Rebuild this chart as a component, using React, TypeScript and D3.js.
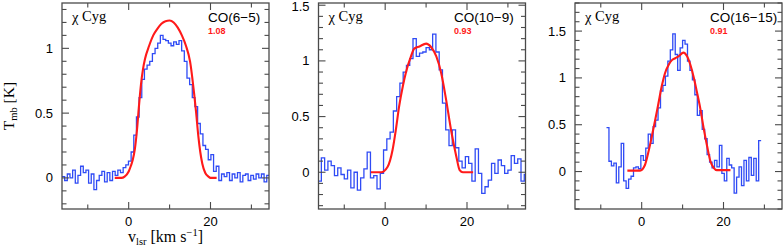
import React, { useEffect, useRef } from 'react';
import * as d3 from 'd3';

// velocity axis shared by all three panels [km/s]
const xDomain: [number, number] = [-16.3, 34.3];
const xMajorTicks = [0, 20];
const xMinorTicks = [-10, 10, 30];

// CO(6-5): channel grid and observed Tmb
const co65Start = -16.3;
const co65Width = 0.65;
const co65Values = [
  0.01, -0.02, 0.03, 0.0, 0.06, -0.04, 0.02, 0.09, 0.04, 0.06,
  -0.04, 0.03, -0.09, -0.02, 0.02, 0.05, -0.03, 0.04, -0.02, 0.05,
  0.02, 0.06, 0.04, 0.08, 0.1, 0.13, 0.2, 0.33, 0.47, 0.62,
  0.76, 0.84, 0.87, 0.9, 0.96, 1.0, 1.04, 1.1, 1.07, 1.06,
  1.04, 1.02, 1.05, 1.03, 1.06, 0.98, 0.9, 0.77, 0.72, 0.62,
  0.55, 0.42, 0.34, 0.25, 0.22, 0.14, 0.18, 0.05, 0.09, -0.02,
  0.03, 0.01, 0.04, -0.02, 0.03, 0.0, 0.04, -0.03, 0.02, 0.03,
  -0.02, 0.02, -0.01, 0.03, 0.0, 0.03, -0.03, 0.02,
];
const co65ModelV = [-3.4, -1.8, -1, 0, 0.5, 1, 1.5, 2, 2.5, 3, 3.5, 4, 5, 6, 7, 8, 9, 10, 11, 12, 13, 14, 15, 16, 16.5, 17, 17.5, 18, 18.7, 19.5, 20, 21.5];
const co65ModelT = [0, 0, 0.01, 0.05, 0.09, 0.14, 0.22, 0.36, 0.55, 0.72, 0.84, 0.92, 1.02, 1.1, 1.15, 1.19, 1.21, 1.215, 1.2, 1.16, 1.1, 1.02, 0.9, 0.65, 0.5, 0.33, 0.2, 0.11, 0.04, 0.01, 0, 0];

// CO(10-9)
const co109Start = -16.4;
const co109Width = 0.8;
const co109Values = [
  -0.08, 0.13, 0.02, 0.1, 0.06, -0.03, 0.04, -0.02, -0.06, 0.02,
  -0.14, 0.0, -0.16, -0.05, 0.03, 0.18, -0.05, -0.03, -0.15, -0.01,
  0.2, 0.3, 0.36, 0.55, 0.68, 0.8, 0.9, 0.96, 1.02, 1.2,
  1.04, 1.07, 1.08, 1.12, 1.1, 1.24, 1.08, 0.92, 0.62, 0.38,
  0.24, 0.38, 0.22, 0.1, 0.04, 0.14, 0.08, -0.08, 0.21, -0.01,
  -0.19, -0.13, -0.07, 0.08, -0.01, 0.11, 0.06, -0.01, 0.02, 0.15,
  0.08, 0.12, -0.08, -0.02,
];
const co109ModelV = [-3.5, -1, 0.6, 1.8, 2.6, 3.4, 4.3, 5.1, 6.3, 7.1, 8.4, 10, 11.2, 12.5, 13.7, 14.9, 16.1, 17.4, 18.2, 19, 21.5];
const co109ModelT = [0, 0, 0.05, 0.2, 0.38, 0.59, 0.77, 0.9, 1.04, 1.11, 1.13, 1.155, 1.125, 1.04, 0.89, 0.65, 0.38, 0.14, 0.02, 0, 0];

// CO(16-15)
const co1615Start = -8.6;
const co1615Width = 0.6;
const co1615Values = [
  0.47, 0.11, 0.06, 0.09, -0.12, 0.05, 0.3, -0.1, -0.18, -0.08,
  -0.05, 0.04, 0.05, 0.03, 0.17, 0.12, 0.25, 0.4, 0.3, 0.48,
  0.55, 0.68, 0.86, 0.92, 1.02, 1.18, 1.3, 1.47, 1.25, 1.08,
  1.32, 1.4, 1.36, 1.18, 1.08, 0.98, 0.82, 0.6, 0.65, 0.45,
  0.35, 0.18, 0.1, 0.04, 0.12, 0.05, 0.28, -0.02, -0.1, 0.14,
  0.07, 0.04, -0.23, -0.06, 0.05, -0.15, 0.12, -0.1, 0.15, -0.04,
  0.14, -0.1, 0.33,
];
const co1615ModelV = [-3.5, -0.4, 0.8, 1.6, 2.5, 3.3, 4.1, 4.9, 5.7, 6.6, 7.4, 8.2, 9, 10.2, 11.1, 11.9, 12.7, 13.5, 14.3, 15.2, 16, 16.8, 17.6, 18.4, 21.7];
const co1615ModelT = [0.01, 0.01, 0.07, 0.2, 0.38, 0.55, 0.73, 0.91, 1.05, 1.14, 1.19, 1.21, 1.23, 1.27, 1.23, 1.14, 1.01, 0.85, 0.68, 0.45, 0.27, 0.11, 0.04, 0.015, 0.015];

const lineNames = ['CO(6\u22125)', 'CO(10\u22129)', 'CO(16\u221215)'];
const ratios = ['1.08', '0.93', '0.91'];
const yDomains: [number, number][] = [[-0.24, 1.35], [-0.33, 1.52], [-0.4, 1.8]];
const yMajorTicks = [[0, 0.5, 1], [0, 0.5, 1, 1.5], [0, 0.5, 1, 1.5]];

const W = 783;
const H = 248;
const frameLefts = [62, 318.5, 575];
const frameW = 207;
const top = 3;
const bottom = 209;
const nameX = [208, 454, 710];

interface Panel {
  start: number;
  width: number;
  values: number[];
  modelV: number[];
  modelT: number[];
}

const panels: Panel[] = [
  { start: co65Start, width: co65Width, values: co65Values, modelV: co65ModelV, modelT: co65ModelT },
  { start: co109Start, width: co109Width, values: co109Values, modelV: co109ModelV, modelT: co109ModelT },
  { start: co1615Start, width: co1615Width, values: co1615Values, modelV: co1615ModelV, modelT: co1615ModelT },
];

export default function App() {
  const svgRef = useRef<SVGSVGElement>(null);

  useEffect(() => {
    if (!svgRef.current) return;
    const svg = d3.select(svgRef.current);
    svg.selectAll('*').remove();

    const frameColor = '#4a4a4a';
    const sans = "'Liberation Sans', Arial, sans-serif";
    const serif = "'Liberation Serif', 'Times New Roman', serif";

    panels.forEach((p, k) => {
      const left = frameLefts[k];
      const x = d3.scaleLinear().domain(xDomain).range([left, left + frameW]);
      const y = d3.scaleLinear().domain(yDomains[k]).range([bottom, top]);
      const g = svg.append('g');

      const clipId = `clip${k}`;
      svg.append('clipPath').attr('id', clipId)
        .append('rect')
        .attr('x', left).attr('y', top)
        .attr('width', frameW).attr('height', bottom - top);

      // observed spectrum as histogram
      const pts: [number, number][] = p.values.map((v, i) => [p.start + i * p.width, v]);
      pts.push([p.start + p.values.length * p.width, p.values[p.values.length - 1]]);
      const step = d3.line<[number, number]>()
        .x(d => x(d[0]))
        .y(d => y(d[1]))
        .curve(d3.curveStepAfter);
      g.append('path')
        .attr('clip-path', `url(#${clipId})`)
        .attr('d', step(pts))
        .attr('fill', 'none')
        .attr('stroke', '#2f4bf5')
        .attr('stroke-width', 1.3);

      // model line
      const model: [number, number][] = p.modelV.map((v, i) => [v, p.modelT[i]]);
      const smooth = d3.line<[number, number]>()
        .x(d => x(d[0]))
        .y(d => y(d[1]))
        .curve(d3.curveMonotoneX);
      g.append('path')
        .attr('clip-path', `url(#${clipId})`)
        .attr('d', smooth(model))
        .attr('fill', 'none')
        .attr('stroke', '#ff1a1a')
        .attr('stroke-width', 2.1);

      // frame
      g.append('rect')
        .attr('x', left).attr('y', top)
        .attr('width', frameW).attr('height', bottom - top)
        .attr('fill', 'none')
        .attr('stroke', frameColor)
        .attr('stroke-width', 1.3);

      // x ticks on bottom and top
      const xt = [...xMajorTicks.map(t => ({ t, len: 7 })), ...xMinorTicks.map(t => ({ t, len: 4.5 }))];
      xt.forEach(({ t, len }) => {
        g.append('line')
          .attr('x1', x(t)).attr('x2', x(t))
          .attr('y1', bottom).attr('y2', bottom - len)
          .attr('stroke', frameColor).attr('stroke-width', 1.1);
        g.append('line')
          .attr('x1', x(t)).attr('x2', x(t))
          .attr('y1', top).attr('y2', top + len)
          .attr('stroke', frameColor).attr('stroke-width', 1.1);
      });
      xMajorTicks.forEach(t => {
        g.append('text')
          .attr('x', x(t)).attr('y', 226)
          .attr('text-anchor', 'middle')
          .attr('font-family', sans).attr('font-size', 13)
          .text(String(t));
      });

      // y ticks, minor every 0.1
      const [y0, y1] = yDomains[k];
      const minor = d3.range(Math.ceil(y0 * 10), Math.floor(y1 * 10) + 1).map(v => v / 10);
      minor.forEach(t => {
        const isMajor = yMajorTicks[k].some(m => Math.abs(m - t) < 1e-6);
        const len = isMajor ? 7 : 4.5;
        g.append('line')
          .attr('x1', left).attr('x2', left + len)
          .attr('y1', y(t)).attr('y2', y(t))
          .attr('stroke', frameColor).attr('stroke-width', 1.1);
        g.append('line')
          .attr('x1', left + frameW).attr('x2', left + frameW - len)
          .attr('y1', y(t)).attr('y2', y(t))
          .attr('stroke', frameColor).attr('stroke-width', 1.1);
      });
      yMajorTicks[k].forEach(t => {
        g.append('text')
          .attr('x', left - 9).attr('y', Math.max(y(t) + 4.5, 11))
          .attr('text-anchor', 'end')
          .attr('font-family', sans).attr('font-size', 13)
          .text(String(t));
      });

      // labels
      const star = g.append('text')
        .attr('x', left + 10).attr('y', 22)
        .attr('font-family', serif).attr('font-size', 14.5);
      star.append('tspan').text('\u03c7 ');
      star.append('tspan').attr('dy', -1).text('Cyg');

      g.append('text')
        .attr('x', nameX[k]).attr('y', 22)
        .attr('font-family', sans).attr('font-size', 13.5)
        .text(lineNames[k]);
      g.append('text')
        .attr('x', nameX[k]).attr('y', 34)
        .attr('font-family', sans).attr('font-size', 9).attr('font-weight', 'bold')
        .attr('fill', '#ff1a1a')
        .text(ratios[k]);
    });

    // axis titles (first panel only)
    const cx = frameLefts[0] + frameW / 2;
    const xl = svg.append('text')
      .attr('x', cx).attr('y', 242)
      .attr('text-anchor', 'middle')
      .attr('font-family', serif).attr('font-size', 16);
    xl.append('tspan').text('v');
    xl.append('tspan').attr('dy', 3).attr('font-size', 10.5).text('lsr');
    xl.append('tspan').attr('dy', -3).text(' [km s');
    xl.append('tspan').attr('dy', -6).attr('font-size', 10.5).text('\u22121');
    xl.append('tspan').attr('dy', 6).text(']');

    const yl = svg.append('text')
      .attr('transform', `translate(14, ${(top + bottom) / 2}) rotate(-90)`)
      .attr('text-anchor', 'middle')
      .attr('font-family', serif).attr('font-size', 15.5);
    yl.append('tspan').text('T');
    yl.append('tspan').attr('dy', 3).attr('font-size', 10.5).text('mb');
    yl.append('tspan').attr('dy', -3).text(' [K]');
  }, []);

  return (
    <svg
      ref={svgRef}
      width={W}
      height={H}
      style={{ position: 'absolute', left: 0, top: 0, background: '#fff' }}
    />
  );
}
